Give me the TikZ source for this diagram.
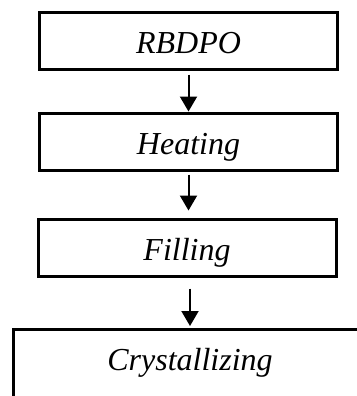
\documentclass[tikz,border=0pt]{standalone}
\usepackage{fontspec}
\setmainfont{Liberation Serif}
\usetikzlibrary{arrows.meta}

\begin{document}
\begin{tikzpicture}[x=0.5pt,y=-0.5pt]
\tikzstyle{stage}=[draw,line width=1.5pt,inner sep=0pt,minimum width=149pt,minimum height=28.5pt,font=\fontsize{16}{19}\selectfont\itshape,text height=1.5em,text depth=0.2em]
\tikzstyle{flow}=[line width=1pt,-{Triangle[length=7.5pt,width=8.5pt]}]

\useasboundingbox (0,0) rectangle (357,396);
\clip (0,0) rectangle (357,396);

\node[stage] (rbdpo) at (188.5,40.5) {RBDPO};
\node[stage] (heating) at (188.5,141.5) {Heating};
\node[stage] (filling) at (187,247.5) {Filling};
\node[stage,anchor=north,minimum width=176.5pt,minimum height=60pt] (cryst) at (190,328) {};
\node[font=\fontsize{16}{19}\selectfont\itshape,text height=1.5em,text depth=0.2em,inner sep=0pt] (crysttext) at (190,357) {Crystallizing};

\draw[flow,shorten <=2pt] (rbdpo.south) -- (heating.north);
\draw[flow,shorten <=1.5pt,shorten >=3.5pt] (heating.south) -- (filling.north -| heating.south);
\draw[flow,shorten <=5.5pt,shorten >=1pt] (filling.south -| cryst.north) -- (cryst.north);

\end{tikzpicture}
\end{document}
